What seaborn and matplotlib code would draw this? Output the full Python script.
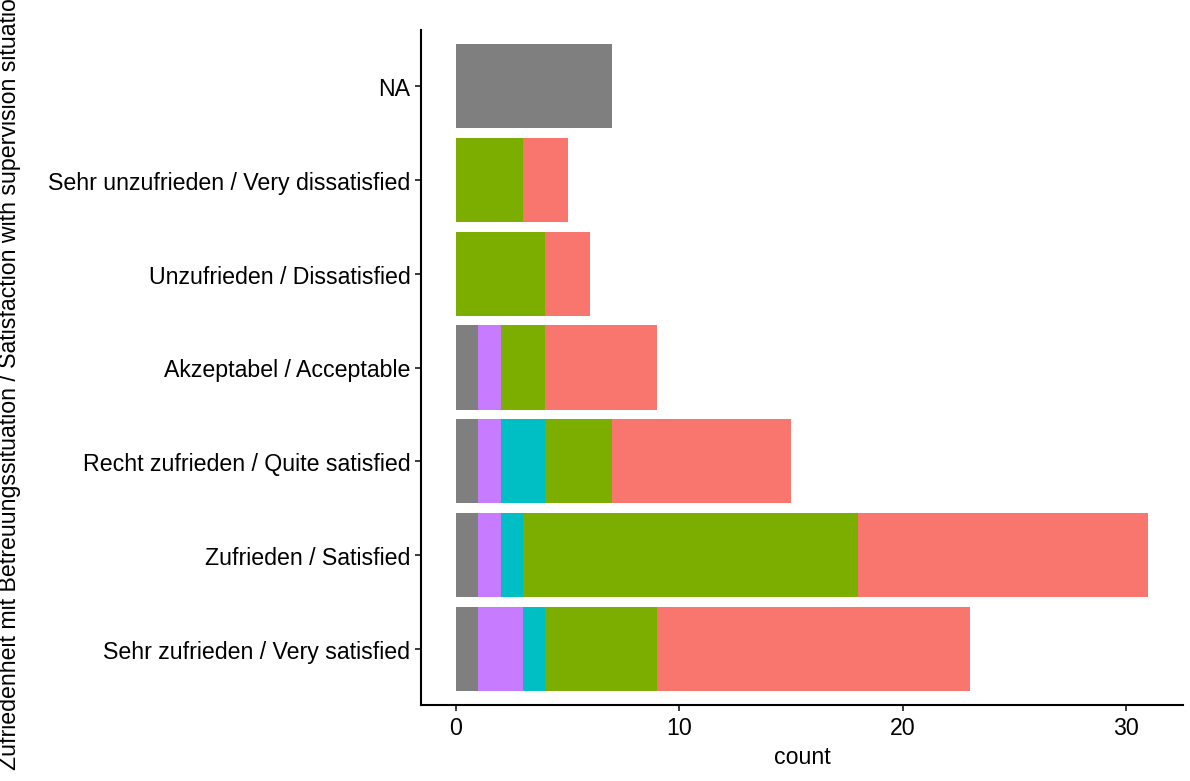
import matplotlib
matplotlib.use("Agg")
import matplotlib.pyplot as plt
import seaborn as sns
import pandas as pd
import numpy as np

categories = [
    "NA",
    "Sehr unzufrieden / Very dissatisfied",
    "Unzufrieden / Dissatisfied",
    "Akzeptabel / Acceptable",
    "Recht zufrieden / Quite satisfied",
    "Zufrieden / Satisfied",
    "Sehr zufrieden / Very satisfied",
]
# stacked segments, left to right
seg_na = [7, 0, 0, 1, 1, 1, 1]
seg_purple = [0, 0, 0, 1, 1, 1, 2]
seg_cyan = [0, 0, 0, 0, 2, 1, 1]
seg_green = [0, 3, 4, 2, 3, 15, 5]
seg_red = [0, 2, 2, 5, 8, 13, 14]

segments = [seg_na, seg_purple, seg_cyan, seg_green, seg_red]
colors = ["#7F7F7F", "#C77CFF", "#00BFC4", "#7CAE00", "#F8766D"]

sns.set_theme(style="ticks")
plt.rcParams["font.family"] = ["Liberation Sans", "DejaVu Sans"]

dpi = 150
fs = 11.1
fig = plt.figure(figsize=(1190 / dpi, 782 / dpi), dpi=dpi)
ax = fig.add_axes([421.4 / 1190, 76 / 782, (1183 - 421.4) / 1190, (706 - 31) / 782])

cum = np.cumsum(np.array(segments), axis=0)
# draw from the largest cumulative total down so that each segment shows
for i in range(len(segments) - 1, -1, -1):
    df = pd.DataFrame({"cat": categories, "total": cum[i]})
    sns.barplot(data=df, x="total", y="cat", order=categories, color=colors[i],
                width=0.9, saturation=1, ax=ax, orient="h", linewidth=0)

ax.set_xlim(-1.55, 32.55)
ax.set_ylim(6.6, -0.6)
ax.set_xticks([0, 10, 20, 30])
ax.set_ylabel("")
ax.set_xlabel("count", fontsize=fs, color="black", labelpad=3)

for s in ["top", "right"]:
    ax.spines[s].set_visible(False)
for s in ["left", "bottom"]:
    ax.spines[s].set_linewidth(1.0)
    ax.spines[s].set_color("black")

ax.tick_params(axis="both", length=2.75, width=0.9, color="#333333",
               labelsize=fs, labelcolor="black", pad=2.5)

fig.text(10 / 1190, 1 - 378 / 782,
         "Zufriedenheit mit Betreuungssituation / Satisfaction with supervision situation",
         rotation=90, ha="center", va="center", fontsize=fs, color="black")

fig.savefig("out.png", dpi=dpi)
